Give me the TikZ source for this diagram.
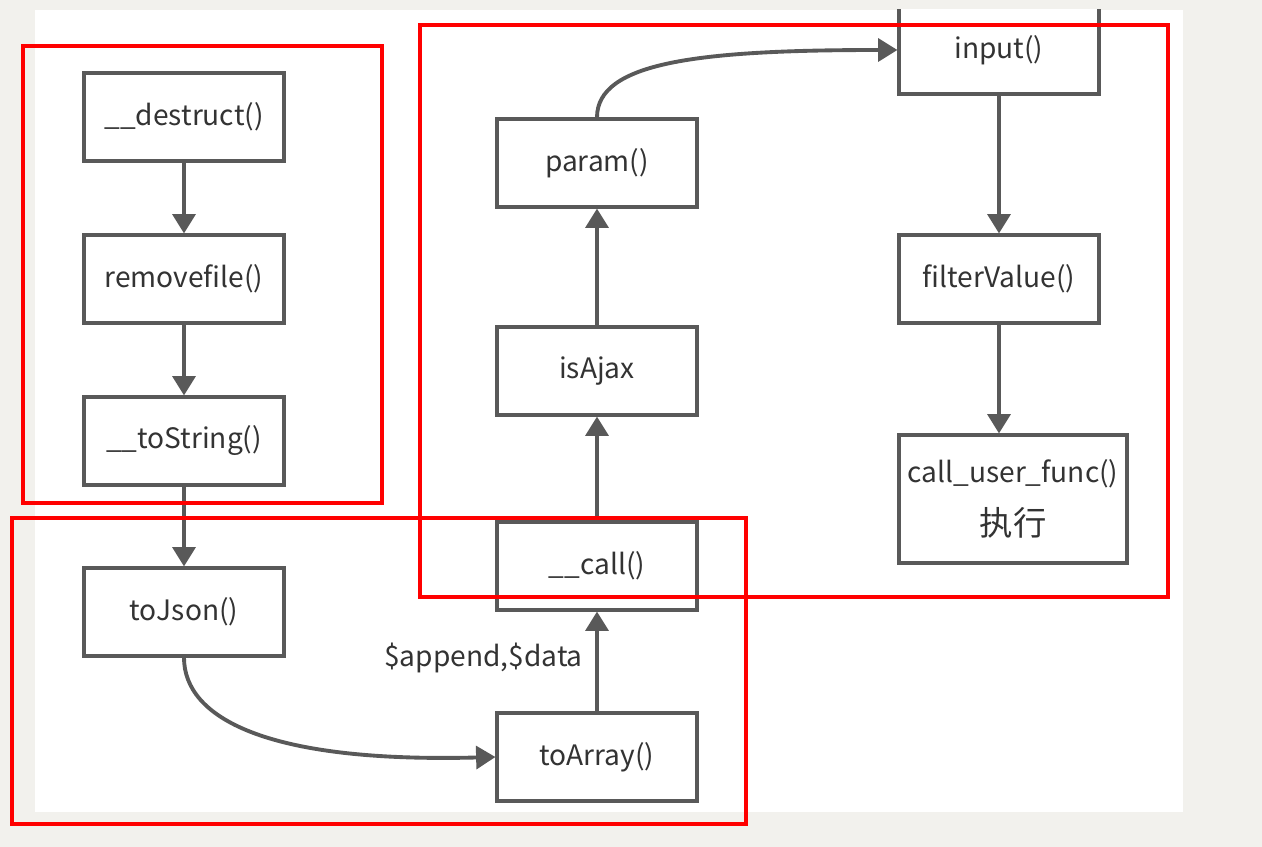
\documentclass[tikz,border=0pt]{standalone}
\usepackage{fontspec}
\setmainfont{Noto Sans CJK SC}
\usetikzlibrary{arrows.meta}
\definecolor{fgray}{HTML}{595959}
\definecolor{pagegray}{HTML}{F2F1ED}
\definecolor{markred}{HTML}{FF0000}

\begin{document}
\begin{tikzpicture}[x=0.02cm,y=-0.02cm,font=\fontsize{16}{19}\selectfont,
  fn/.style={rectangle,draw=fgray,line width=1.8pt,fill=white,text=black!80,
    minimum width=4cm,minimum height=1.76cm,inner sep=2pt},
  link/.style={draw=fgray,line width=2.2pt,-{Triangle[width=13pt,length=11pt]}},
  hl/.style={draw=markred,line width=2pt}]
  \useasboundingbox[fill=pagegray] (0,0) rectangle (1262,847);
  \fill[white] (35,10) rectangle (1183,812);
  \begin{scope}
    \clip (35,10) rectangle (1183,812);
    % left column
    \node[fn] (ds) at (184,117) {\_\_destruct()};
    \node[fn] (rf) at (184,279) {removefile()};
    \node[fn] (ts) at (184,441) {\_\_toString()};
    \node[fn] (tj) at (184,612) {toJson()};
    % middle column
    \node[fn] (ta) at (597,757) {toArray()};
    \node[fn] (cl) at (597,566) {\_\_call()};
    \node[fn] (ax) at (597,371) {isAjax};
    \node[fn] (pr) at (597,163) {param()};
    % right column
    \node[fn] (in) at (999,50) {input()};
    \node[fn] (fv) at (999,279) {filterValue()};
    \node[fn,minimum width=4.56cm,minimum height=2.56cm,align=center] (cu) at (1013,499)
      {call\_user\_func()\\[10pt]{\fontsize{19}{22}\selectfont 执行}};
    \foreach \a/\b in {ds/rf,rf/ts,ts/tj,ta/cl,cl/ax,ax/pr,in/fv}
      \draw[link] (\a) -- (\b);
    \draw[link] (fv.south) -- (fv.south |- cu.north);
    \draw[link] (tj.south) .. controls +(0,60) and +(-230,6) .. (ta.west);
    \draw[link] (pr.north) .. controls +(0,-55) and +(-200,0) .. (in.west);
    \node[anchor=east,text=black!80] (lbl) at (589,658) {\$append,\$data};
  \end{scope}
  % red marks
  \draw[hl] (23,46) rectangle (382,503);
  \draw[hl] (420,25) rectangle (1168,597);
  \draw[hl] (12,518) rectangle (746,824);
\end{tikzpicture}
\end{document}
